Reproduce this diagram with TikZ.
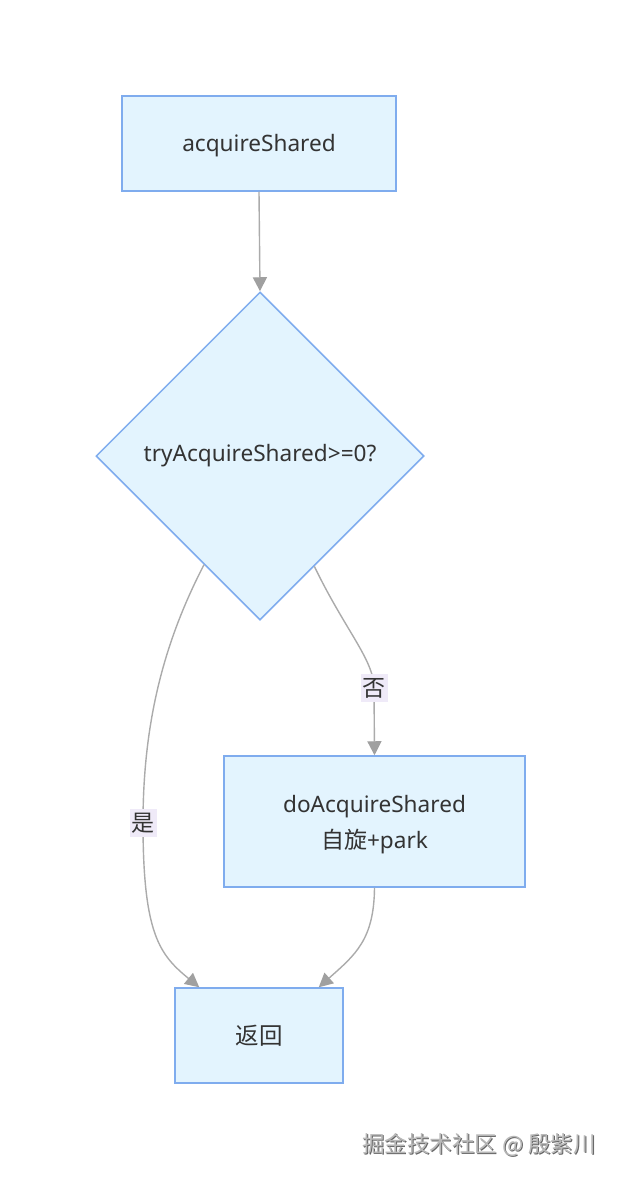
\documentclass[tikz,border=0pt]{standalone}
\usepackage{fontspec}
\setmainfont{Noto Sans}
\newfontfamily\cjk{Noto Sans CJK SC}
\usetikzlibrary{shapes.geometric,arrows.meta,calc}
\definecolor{nodefill}{HTML}{E3F4FE}
\definecolor{nodeline}{HTML}{7FACEE}
\definecolor{edgeline}{HTML}{ABABAB}
\definecolor{tipfill}{HTML}{A0A0A0}
\definecolor{labelbg}{HTML}{EFEAF8}
\definecolor{txt}{HTML}{333333}
\tikzset{
  box/.style={draw=nodeline, fill=nodefill, line width=1.5pt, text=txt, font=\fontsize{22.6}{36}\selectfont, align=center, inner sep=0pt},
  decision/.style={diamond, aspect=1, draw=nodeline, fill=nodefill, line width=1.5pt, text=txt, font=\fontsize{22.6}{28}\selectfont, inner sep=0pt, minimum width=328pt, minimum height=328pt},
  edge/.style={draw=edgeline, line width=1.4pt, -{Triangle[length=14pt,width=14pt,fill=tipfill,color=tipfill]}},
  elabel/.style={fill=labelbg, text=txt, font=\cjk\fontsize{23}{26}\selectfont, inner xsep=2pt, inner ysep=4pt},
}
\begin{document}
\begin{tikzpicture}[x=1pt,y=-1pt]
\useasboundingbox (0,0) rectangle (621,1180);
\node[box, minimum width=274pt, minimum height=95pt] (a) at (259,143.5) {};
\node[text=txt, font=\fontsize{22.6}{28}\selectfont, inner sep=0pt] (at) at (259,145.5) {acquireShared};
\node[decision] (d) at (260,456) {tryAcquireShared>=0?};
\node[box, minimum width=301pt, minimum height=131pt] (b) at (374.5,821.5) {};
\node[text=txt, font=\fontsize{22.6}{36}\selectfont, align=center, inner sep=0pt] (bt) at (374.5,824.5) {doAcquireShared\\{\cjk\fontsize{23}{36}\selectfont 自旋}+park};
\node[box, minimum width=168pt, minimum height=95pt, font=\cjk\fontsize{23.5}{28}\selectfont] (r) at (259,1035.5) {返回};

\coordinate (dl) at ($(d.west)!0.66!(d.south)$);
\coordinate (dr) at ($(d.east)!0.67!(d.south)$);
\coordinate (rl) at ($(r.north west)+(25,0)$);
\coordinate (rr) at ($(r.north east)+(-25,0)$);
\coordinate (bn) at ($(b.north)$);

\draw[edge] (a.south) -- (d.north);
\draw[edge] (dl) .. controls (165,640) and (143,720) .. (143,823)
  node[elabel] {是}
  .. controls (143,935) and (160,955) .. (rl);
\draw[edge] (dr) .. controls (345,630) and (374,660) .. (374,688)
  node[elabel] {否}
  -- (bn);
\draw[edge] (b.south) .. controls (374,940) and (355,955) .. (rr);

\node[text=black!60, font=\cjk\fontsize{22.5}{26}\selectfont] (wms) at (480,1146) {掘金技术社区 @ 殷紫川};
\node[text=black!28, font=\cjk\fontsize{22.5}{26}\selectfont] (wm) at (479,1145) {掘金技术社区 @ 殷紫川};
\end{tikzpicture}
\end{document}
